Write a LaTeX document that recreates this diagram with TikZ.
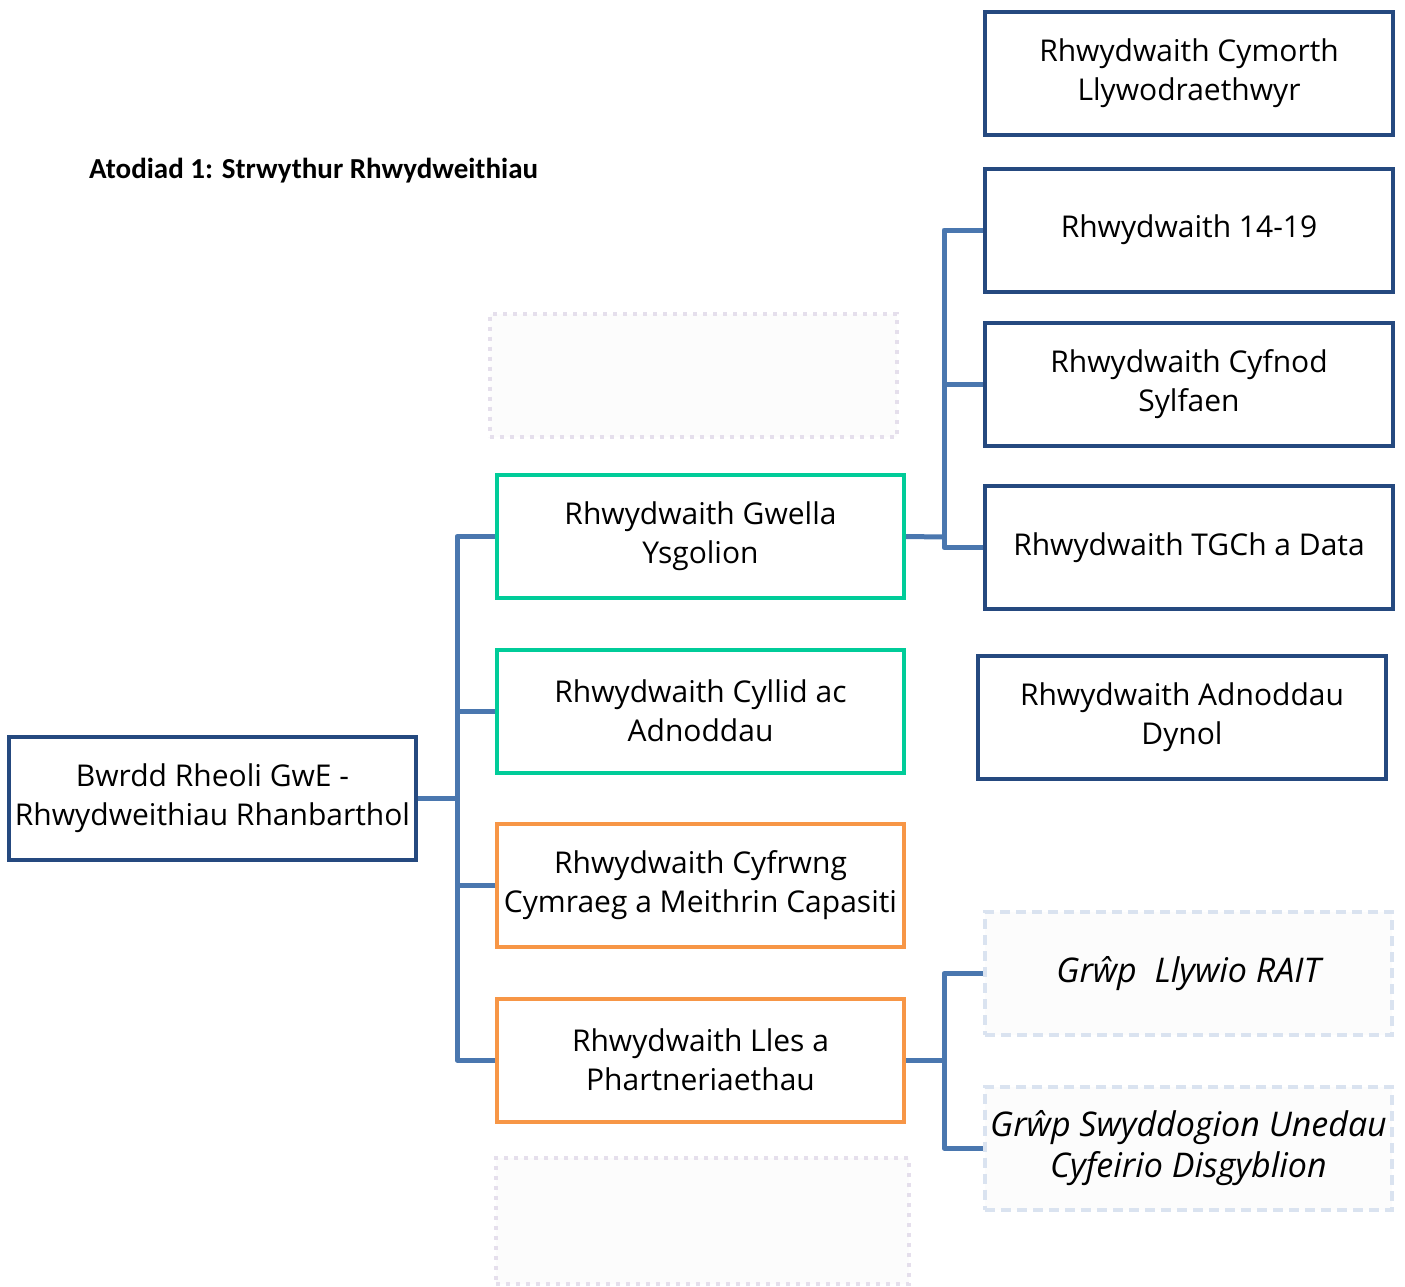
\documentclass[tikz,border=0pt]{standalone}
\usepackage{fontspec}
\setmainfont{Open Sans}
\newfontfamily\titlefont{Carlito}
\usetikzlibrary{positioning}
\definecolor{darkb}{HTML}{25497F}
\definecolor{connc}{HTML}{4A77AF}
\definecolor{greenb}{HTML}{00CC99}
\definecolor{orangeb}{HTML}{F79646}
\definecolor{dashb}{HTML}{DAE3F0}
\definecolor{dotb}{HTML}{E5DFEC}
\tikzset{
  box/.style={rectangle, line width=4pt, fill=white, minimum width=407pt, minimum height=123pt,
    align=center, inner sep=1pt, font=\fontsize{30}{39}\selectfont, text=black},
  darkbox/.style={box, draw=darkb},
  greenbox/.style={box, draw=greenb},
  orangebox/.style={box, draw=orangeb},
  dashbox/.style={box, draw=dashb, fill=white!99!black, dash pattern=on 10pt off 6pt, font=\fontsize{34}{41}\selectfont\itshape},
  dotbox/.style={box, draw=dotb, fill=white!99!black, dash pattern=on 4pt off 6pt},
  conn/.style={draw=connc, line width=5pt, line join=round}
}
\begin{document}
\begin{tikzpicture}[x=1pt,y=-1pt]
\useasboundingbox[fill=white] (0,0) rectangle (1405,1286);
\node[anchor=west, inner sep=0pt, font=\titlefont\bfseries\fontsize{29}{33}\selectfont] (title) at (89,171) {Atodiad 1: Strwythur Rhwydweithiau};

\node[darkbox] (root) at (212.5,798) {Bwrdd Rheoli GwE -\\Rhwydweithiau Rhanbarthol};

\node[dotbox] (dot1) at (693.5,375) {};
\node[greenbox] (gwella) at (700.5,536.5) {Rhwydwaith Gwella\\Ysgolion};
\node[greenbox] (cyllid) at (700.5,711) {Rhwydwaith Cyllid ac\\Adnoddau};
\node[orangebox] (cyfrwng) at (700.5,885.5) {Rhwydwaith Cyfrwng\\Cymraeg a Meithrin Capasiti};
\node[orangebox] (lles) at (700.5,1060) {Rhwydwaith Lles a\\Phartneriaethau};
\node[dotbox, minimum width=413pt, minimum height=126pt] (dot2) at (702.5,1221) {};

\node[darkbox, minimum width=408pt] (cymorth) at (1189,73.5) {Rhwydwaith Cymorth\\Llywodraethwyr};
\node[darkbox, minimum width=408pt] (r1419) at (1189,230) {Rhwydwaith 14-19};
\node[darkbox, minimum width=408pt] (cyfnod) at (1189,384) {Rhwydwaith Cyfnod\\Sylfaen};
\node[darkbox, minimum width=408pt] (tgch) at (1189,547.5) {Rhwydwaith TGCh a Data};
\node[darkbox, minimum width=408pt] (adnoddau) at (1182,717.5) {Rhwydwaith Adnoddau\\Dynol};

\node[dashbox] (rait) at (1188.5,973.5) {Grŵp\ \ Llywio RAIT};
\node[dashbox] (swydd) at (1188.5,1148) {Grŵp Swyddogion Unedau\\Cyfeirio Disgyblion};

\coordinate (j1) at (457,798);
\coordinate (j2) at (944,537);
\coordinate (j3) at (944,1060);

\draw[conn] (root.east) -- (j1);
\draw[conn] (gwella.west) -| (j1);
\draw[conn] (cyllid.west) -| (j1);
\draw[conn] (cyfrwng.west) -| (j1);
\draw[conn] (lles.west) -| (j1);

\draw[conn] (gwella.east) -- (j2);
\draw[conn] (r1419.west) -| (j2);
\draw[conn] (cyfnod.west) -| (j2);
\draw[conn] (tgch.west) -| (j2);

\draw[conn] (lles.east) -- (j3);
\draw[conn] (rait.west) -| (j3);
\draw[conn] (swydd.west) -| (j3);
\end{tikzpicture}
\end{document}
